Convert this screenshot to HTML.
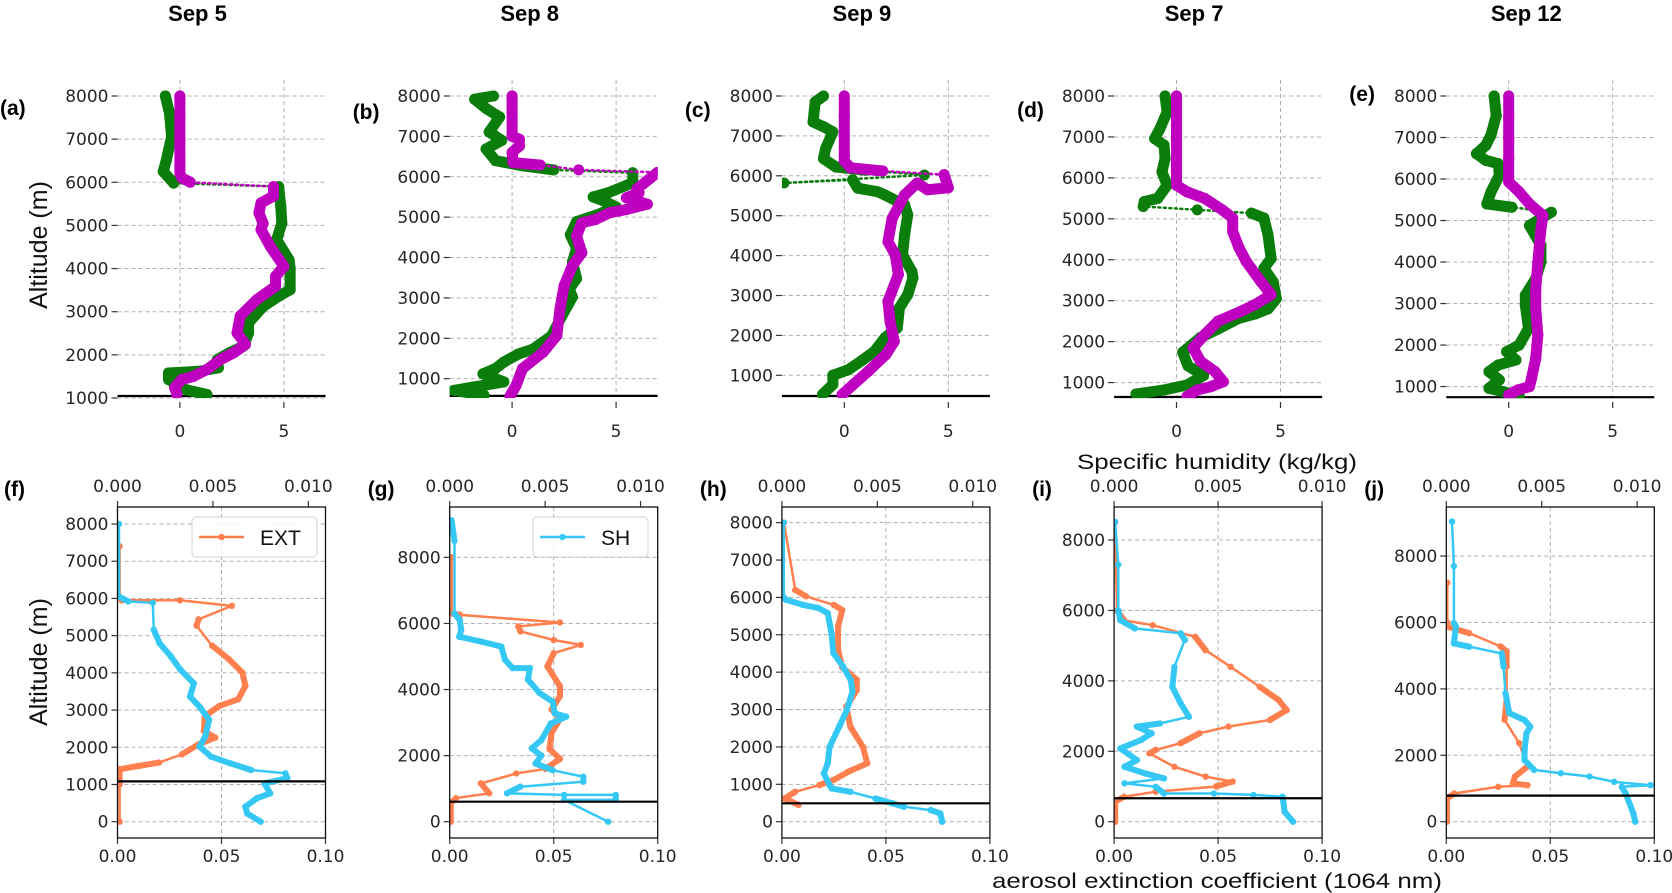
<!DOCTYPE html>
<html><head><meta charset="utf-8"><style>
html,body{margin:0;padding:0;background:#fff;}
svg{display:block;font-family:"DejaVu Sans","Liberation Sans",sans-serif;}
</style></head><body>
<svg id="fig" width="1672" height="893" viewBox="0 0 1672 893" xmlns="http://www.w3.org/2000/svg"></svg>
<script>
// ---------- DATA: top row (specific humidity profiles, x units, altitude m) ----------
const aGAlt=[8000,7600,7060,6520,6250,5980,5900,5440,5050,4670,4200,4010,3510,3360,3120,2740,2510,2200,2040,1890,1700,1620,1580,1430,1190,1080];
const aGVal=[-0.7,-0.5,-0.4,-0.65,-0.8,-0.3,4.75,4.85,4.9,4.65,5.25,5.3,5.3,4.75,4.0,3.3,3.3,3.05,2.35,1.8,1.85,0.95,-0.55,-0.55,0.3,1.3];
const aMAlt=[8000,7500,7000,6500,6200,6100,6000,5900,5680,5520,5290,5050,4900,4510,4050,3820,3590,3280,2900,2510,2240,2050,1890,1660,1500,1430,1240,1090];
const aMVal=[0,0,0,0,0,0.1,0.5,4.5,4.5,3.9,3.8,4.0,3.9,4.35,5.0,4.6,4.6,3.7,2.9,2.75,3.15,2.6,1.95,1.3,0.65,0.1,-0.25,-0.15];
const bGAlt=[8000,7920,7690,7480,7110,6900,6690,6400,6270,6170,6100,5850,5600,5500,5380,5250,5060,4890,4560,4230,3890,3480,3220,3020,2560,2060,1730,1610,1410,1250,1120,920,790,710,590];
const bGVal=[-0.9,-1.8,-1.25,-0.6,-1.1,-0.5,-1.25,-0.8,0.5,2.0,5.8,5.8,4.6,3.9,4.5,5.0,4.1,3.1,2.8,3.1,2.9,3.1,2.75,2.9,2.4,1.9,1.0,0.3,-0.4,-0.8,-1.4,-0.4,-1.9,-2.8,-1.35];
const bMAlt=[8000,7500,7000,6930,6760,6600,6350,6290,6170,6110,5700,5600,5480,5320,5190,5110,4940,4860,4530,4120,3800,3300,2720,2070,1660,1250,840,570];
const bMVal=[0,0,0,0.35,0.35,0,0.05,1.35,3.2,7,6.0,6.1,5.5,6.5,5.5,4.7,4.0,3.35,3.1,3.35,2.9,2.5,2.3,2.15,1.5,0.5,0.2,-0.1];
const cGAlt=[8000,7850,7350,7230,7100,6680,6430,6220,6140,6020,5820,5900,5690,5600,5520,5270,5020,4520,4020,3600,3440,3020,2690,2190,1940,1600,1390,1140,1000,770,520];
const cGVal=[-1.0,-1.4,-1.5,-1.0,-0.55,-0.9,-1.0,-0.4,1.0,3.85,-2.9,0.4,0.65,1.6,1.95,2.9,3.05,2.9,2.8,3.25,3.3,3.05,2.65,2.55,1.95,1.45,0.9,0.2,-0.55,-0.55,-1.05];
const cMAlt=[8000,7500,7000,6500,6370,6200,6120,6030,5700,5650,5820,5520,4930,4350,4020,3530,2850,2350,1850,1520,1100,800,520];
const cMVal=[0,0,0,0,0,0.3,1.85,4.8,5.0,4.0,3.5,2.9,2.3,2.1,2.45,2.6,2.1,2.2,2.4,2.0,1.15,0.5,-0.1];
const dGAlt=[8000,7610,7200,6960,6800,6470,6150,5820,5500,5420,5300,5220,5140,5020,4610,4030,3790,3460,3050,2800,2680,2560,2310,2100,1740,1410,1170,940,820,720];
const dGVal=[-0.55,-0.45,-0.8,-1.05,-0.6,-0.55,-0.7,-0.45,-0.9,-1.55,-1.6,1.0,3.6,4.2,4.4,4.55,4.2,4.65,4.8,4.4,3.8,2.95,2.0,1.15,0.3,0.55,1.3,0.5,-0.6,-1.95];
const dMAlt=[8000,7500,7000,6500,6000,5820,5660,5500,5220,5020,4690,4300,3960,3470,3150,2940,2740,2500,2170,1850,1520,1270,1020,900,820,660];
const dMVal=[0,0,0,0,0,0,0.5,1.35,2.2,2.7,2.7,3.0,3.35,4.05,4.55,3.9,3.1,2.0,1.35,0.8,1.15,1.85,2.25,1.65,1.0,0.5];
const eGAlt=[8000,7530,7060,6810,6610,6450,6370,6090,5690,5400,5320,5200,4880,4400,4000,3600,3200,2960,2400,2000,1840,1640,1520,1360,1160,960,780];
const eGVal=[-0.7,-0.6,-0.85,-1.1,-1.55,-1.1,-0.5,-0.45,-0.85,-1.05,0.15,2.05,1.0,1.55,1.55,1.3,0.8,0.8,0.95,0.5,-0.1,0.35,-0.5,-0.95,-0.45,-0.95,0.5];
const eMAlt=[8000,7500,7000,6500,5930,5690,5400,5120,4800,4000,3360,2880,2240,1680,1200,1000,920,800];
const eMVal=[0,0,0,0,0,0.5,1.0,1.65,1.55,1.4,1.3,1.3,1.4,1.3,1.1,1.0,0.45,0];
const topGround=[1046,573,481,648,744];
const topYTicks=[1000,2000,3000,4000,5000,6000,7000,8000];
const topXTicks=[0,5];
const titles=["Sep 5","Sep 8","Sep 9","Sep 7","Sep 12"];

// ---------- DATA: bottom row (EXT bottom axis, SH top axis) ----------
const fEAlt=[7400,6050,5950,5950,5800,5440,5270,4730,4370,4010,3650,3290,3110,2840,2440,2260,2080,1810,1590,1500,1410,1000,0];
const fEVal=[0.001,0.001,0.002,0.03,0.055,0.039,0.038,0.0455,0.0535,0.06,0.0615,0.058,0.049,0.042,0.0415,0.047,0.039,0.031,0.02,0.0104,0.001,0.001,0.001];
const fSAlt=[8000,6050,5920,5880,5160,4800,4440,4080,3720,3360,3090,2740,2290,2020,1750,1570,1390,1300,1170,1030,760,630,400,220,0];
const fSVal=[0.00008,0.00008,0.00056,0.00185,0.0019,0.0022,0.0028,0.0033,0.004,0.0038,0.0043,0.0048,0.0046,0.0043,0.0049,0.0059,0.007,0.0088,0.0089,0.0077,0.008,0.0073,0.0067,0.0068,0.0075];
const gEAlt=[8000,6300,6260,6030,5910,5760,5500,5350,5100,4700,4100,3800,3400,3100,2700,2200,1900,1600,1460,1160,860,710,560,0];
const gEVal=[0.001,0.001,0.005,0.053,0.033,0.034,0.05,0.063,0.05,0.047,0.053,0.053,0.049,0.053,0.049,0.048,0.053,0.046,0.032,0.015,0.019,0.003,0.0005,0.0005];
const gSAlt=[9120,8500,6300,6100,5800,5600,5450,5300,4900,4650,4650,4300,3900,3630,3280,3180,2970,2470,2220,2000,1760,1560,1360,1210,1060,860,810,810,660,660,0];
const gSVal=[0.0001,0.00025,0.00025,0.00053,0.0006,0.0005,0.00165,0.0027,0.0029,0.0033,0.0042,0.0041,0.0047,0.0054,0.0055,0.0061,0.0053,0.0048,0.0043,0.0048,0.0045,0.0054,0.007,0.007,0.0037,0.003,0.006,0.0087,0.0087,0.006,0.0083];
const hEAlt=[8000,6200,6030,5800,5660,5220,4600,4130,3800,3520,3070,2530,2000,1560,1340,1120,980,800,620,450];
const hEVal=[0.001,0.0064,0.0116,0.025,0.029,0.027,0.027,0.029,0.036,0.036,0.031,0.033,0.039,0.041,0.032,0.025,0.018,0.0064,0.0012,0.008];
const hSAlt=[8000,6000,5940,5800,5720,5580,5040,4510,4150,3800,3480,2980,2540,2000,1560,1290,980,890,800,620,490,400,310,220,0];
const hSVal=[0.0001,0.0001,0.0002,0.0011,0.0019,0.0024,0.0026,0.0027,0.0032,0.0036,0.0037,0.0034,0.003,0.0025,0.0024,0.0022,0.0025,0.0026,0.0036,0.0049,0.0058,0.0064,0.0078,0.0083,0.0084];
const iEAlt=[8500,6000,5720,5580,5250,4870,4400,3830,3460,3170,2890,2700,2510,2230,2040,1940,1560,1280,1140,1000,850,710,570,0];
const iEVal=[0.0005,0.0014,0.0048,0.0186,0.039,0.044,0.056,0.07,0.079,0.083,0.075,0.055,0.041,0.032,0.02,0.017,0.029,0.044,0.057,0.049,0.02,0.0048,0.0005,0.0005];
const iSAlt=[8520,7300,6000,5720,5490,5350,5160,4400,3830,3360,2980,2790,2700,2510,2320,2080,1750,1560,1370,1230,1090,990,800,800,760,710,280,0];
const iSVal=[0.00005,0.0002,0.0002,0.0003,0.001,0.0032,0.0034,0.0029,0.0028,0.0032,0.0036,0.0022,0.0011,0.0018,0.0013,0.0003,0.0011,0.0005,0.0015,0.0024,0.0005,0.002,0.0024,0.0048,0.0067,0.0081,0.0082,0.0086];
const jEAlt=[7200,6000,5880,5680,5280,5130,4670,3670,3070,2370,1660,1360,1150,1100,1050,850,700,0];
const jEVal=[0.0005,0.0005,0.0003,0.011,0.026,0.029,0.029,0.029,0.028,0.035,0.039,0.033,0.032,0.039,0.025,0.0038,0.0003,0.0003];
const jSAlt=[9040,7700,5980,5880,5370,5270,5070,4670,3870,3270,3060,2860,2660,2160,1860,1560,1460,1360,1200,1100,1050,850,250,0];
const jSVal=[0.0003,0.0004,0.0004,0.0005,0.0004,0.0012,0.0029,0.003,0.0031,0.0033,0.0041,0.0044,0.0042,0.0041,0.0041,0.0046,0.006,0.0075,0.0088,0.0107,0.0092,0.0094,0.0098,0.0099];
const botGround=[1083,605,492,665,785];
const extTicks=[0,0.05,0.10];
const extTickLabels=["0.00","0.05","0.10"];
const shTicks=[0,0.005,0.010];
const shTickLabels=["0.000","0.005","0.010"];
const botYTicksF=[0,1000,2000,3000,4000,5000,6000,7000,8000];
const botYTicksG=[0,2000,4000,6000,8000];

// ---------- layout (geometry, not data) ----------
const NS="http://www.w3.org/2000/svg";
const svg=document.getElementById('fig');
const LEFTS=[117.5,449.7,781.9,1114.1,1446.3], W=208;
const kTop=[0.04314,0.04038,0.0399,0.04094,0.04151];
const kBot=[0.03721,0.03304,0.03738,0.03521,0.0332];
const shMax=[0.0109,0.0109,0.0109,0.0100,0.0109];
const BT=507, BB=838, Y0=821.7;
const topSeries=[[aGAlt,aGVal,aMAlt,aMVal],[bGAlt,bGVal,bMAlt,bMVal],[cGAlt,cGVal,cMAlt,cMVal],[dGAlt,dGVal,dMAlt,dMVal],[eGAlt,eGVal,eMAlt,eMVal]];
const botSeries=[[fEAlt,fEVal,fSAlt,fSVal],[gEAlt,gEVal,gSAlt,gSVal],[hEAlt,hEVal,hSAlt,hSVal],[iEAlt,iEVal,iSAlt,iSVal],[jEAlt,jEVal,jSAlt,jSVal]];
const botYT=[botYTicksF,botYTicksG,botYTicksF,botYTicksG,botYTicksG];
const topLetters=["(a)","(b)","(c)","(d)","(e)"], botLetters=["(f)","(g)","(h)","(i)","(j)"];
const topLetterX=[0,LEFTS[1]-97,LEFTS[2]-97,LEFTS[3]-97,LEFTS[4]-97];
const topLetterY=[115,119,117,117,101];
const botLetterX=[4,LEFTS[1]-82,LEFTS[2]-82,LEFTS[3]-82,LEFTS[4]-82];

function mk(tag,attrs,parent){const e=document.createElementNS(NS,tag);for(const k in attrs)e.setAttribute(k,attrs[k]);(parent||svg).appendChild(e);return e;}
function txt(s,attrs,parent){const e=mk('text',attrs,parent);e.textContent=s;return e;}

const defs=mk('defs',{});
for(let p=0;p<5;p++){
  const c1=mk('clipPath',{id:'ct'+p},defs);mk('rect',{x:LEFTS[p],y:78,width:W,height:320},c1);
  const c2=mk('clipPath',{id:'cb'+p},defs);mk('rect',{x:LEFTS[p],y:BT,width:W,height:BB-BT},c2);
}

function drawSeries(g,xs,ys,color,thinDash,thinW,thickW,thr,r,name){
  const sg=mk('g',{},g);
  
  
  let d='';xs.forEach((x,i)=>{d+=(i?'L':'M')+x.toFixed(1)+' '+ys[i].toFixed(1);});
  const pl=mk('path',{d:d,fill:'none',stroke:color,'stroke-width':thinW,'stroke-dasharray':thinDash||'none','stroke-linecap':'round'},sg);
  
  
  for(let i=1;i<xs.length;i++){
    const dx=xs[i]-xs[i-1],dy=ys[i]-ys[i-1];
    if(Math.hypot(dx,dy)<thr){mk('line',{x1:xs[i-1],y1:ys[i-1],x2:xs[i],y2:ys[i],stroke:color,'stroke-width':thickW,'stroke-linecap':'round'},sg);}
  }
  for(let i=0;i<xs.length;i++){
    const c=mk('circle',{cx:xs[i],cy:ys[i],r:r,fill:color},sg);
    
    
  }
}

for(let p=0;p<5;p++){
  const t=txt(titles[p],{x:LEFTS[p]+80,y:21,'text-anchor':'middle','font-family':'Liberation Sans, sans-serif','font-weight':'bold','font-size':22,fill:'#000'});
  
  
}

// ---- top row ----
for(let p=0;p<5;p++){
  const L=LEFTS[p], k=kTop[p];
  const X=v=>L+(v+3)/10*W;
  const Y=v=>96+(8000-v)*k;
  const g=mk('g',{});
  
  
  topYTicks.forEach(t=>{
    mk('line',{x1:L,y1:Y(t),x2:L+W,y2:Y(t),stroke:'#b0b0b0','stroke-width':1,'stroke-dasharray':'4,3'},g);
    mk('line',{x1:L-6,y1:Y(t),x2:L,y2:Y(t),stroke:'#333','stroke-width':1.2},g);
    const tl=txt(String(t),{x:L-9,y:Y(t)+6,'text-anchor':'end','font-size':17,fill:'#262626'},g);
    
    
  });
  topXTicks.forEach(t=>{
    mk('line',{x1:X(t),y1:80,x2:X(t),y2:396,stroke:'#b0b0b0','stroke-width':1,'stroke-dasharray':'4,3'},g);
    mk('line',{x1:X(t),y1:402,x2:X(t),y2:408,stroke:'#333','stroke-width':1.2},g);
    const tl=txt(String(t),{x:X(t),y:437,'text-anchor':'middle','font-size':17,fill:'#262626'},g);
    
    
  });
  const gl=mk('line',{x1:L,y1:Y(topGround[p]),x2:L+W,y2:Y(topGround[p]),stroke:'#000','stroke-width':2.2},g);
  
  
  const s=topSeries[p];
  const cg=mk('g',{'clip-path':'url(#ct'+p+')'},g);
  drawSeries(cg,s[1].map(X),s[0].map(Y),'#0b7d0b','2,3.5',2.5,11,36,5.5,'green-series');
  drawSeries(cg,s[3].map(X),s[2].map(Y),'#c000c0','2,3.5',2.5,11,36,5.5,'magenta-series');
  const pl=txt(topLetters[p],{x:topLetterX[p],y:topLetterY[p],'font-family':'Liberation Sans, sans-serif','font-weight':'bold','font-size':21,fill:'#000'});
  
  
}

// ---- bottom row ----
for(let p=0;p<5;p++){
  const L=LEFTS[p], k=kBot[p];
  const XE=v=>L+v/0.1*W;
  const XS=v=>L+v/shMax[p]*W;
  const Y=v=>Y0-v*k;
  const g=mk('g',{});
  
  
  botYT[p].forEach(t=>{
    mk('line',{x1:L,y1:Y(t),x2:L+W,y2:Y(t),stroke:'#b0b0b0','stroke-width':1,'stroke-dasharray':'4,3'},g);
    mk('line',{x1:L-6,y1:Y(t),x2:L,y2:Y(t),stroke:'#333','stroke-width':1.2},g);
    const tl=txt(String(t),{x:L-9,y:Y(t)+6,'text-anchor':'end','font-size':17,fill:'#262626'},g);
    
    
  });
  mk('line',{x1:XE(0.05),y1:BT,x2:XE(0.05),y2:BB,stroke:'#b0b0b0','stroke-width':1,'stroke-dasharray':'4,3'},g);
  extTicks.forEach((t,i)=>{
    mk('line',{x1:XE(t),y1:BB,x2:XE(t),y2:BB+6,stroke:'#333','stroke-width':1.2},g);
    const tl=txt(extTickLabels[i],{x:XE(t),y:862,'text-anchor':'middle','font-size':17,fill:'#262626'},g);
    
    
  });
  shTicks.forEach((t,i)=>{
    if(t>shMax[p]+1e-9)return;
    mk('line',{x1:XS(t),y1:BT-6,x2:XS(t),y2:BT,stroke:'#333','stroke-width':1.2},g);
    const tl=txt(shTickLabels[i],{x:XS(t),y:492,'text-anchor':'middle','font-size':17,fill:'#262626'},g);
    
    
  });
  const s=botSeries[p];
  const cg=mk('g',{'clip-path':'url(#cb'+p+')'},g);
  drawSeries(cg,s[1].map(XE),s[0].map(Y),'#ff7f4f',null,2.5,6,24,3.2,'ext-series');
  drawSeries(cg,s[3].map(XS),s[2].map(Y),'#35c8f5',null,2.5,6,24,3.2,'sh-series');
  const gl=mk('line',{x1:L,y1:Y(botGround[p]),x2:L+W,y2:Y(botGround[p]),stroke:'#000','stroke-width':2.2},g);
  
  
  const fr=mk('rect',{x:L,y:BT,width:W,height:BB-BT,fill:'none',stroke:'#111','stroke-width':1.3},g);
  
  
  const pl=txt(botLetters[p],{x:botLetterX[p],y:496,'font-family':'Liberation Sans, sans-serif','font-weight':'bold','font-size':21,fill:'#000'});
  
  
}

function legend(x,w,color,label,name){
  const g=mk('g',{});
  
  
  mk('rect',{x:x,y:517,width:w,height:40,rx:4,fill:'#fff','fill-opacity':0.85,stroke:'#d0d0d0','stroke-width':1},g);
  mk('line',{x1:x+7,y1:537,x2:x+52,y2:537,stroke:color,'stroke-width':2.5},g);
  mk('circle',{cx:x+29.5,cy:537,r:3.2,fill:color},g);
  txt(label,{x:x+68,y:545,'font-family':'Liberation Sans, sans-serif','font-size':21,fill:'#111'},g);
}
legend(192,125,'#ff7f4f','EXT','legend-ext');
legend(533,115,'#35c8f5','SH','legend-sh');

let t=txt('Altitude (m)',{x:0,y:0,'text-anchor':'middle','font-family':'Liberation Sans, sans-serif','font-size':25,fill:'#111',transform:'translate(47,245) rotate(-90)'});

t=txt('Altitude (m)',{x:0,y:0,'text-anchor':'middle','font-family':'Liberation Sans, sans-serif','font-size':25,fill:'#111',transform:'translate(47,662) rotate(-90)'});

t=txt('Specific humidity (kg/kg)',{x:1217,y:469,'text-anchor':'middle','font-family':'Liberation Sans, sans-serif','font-size':21,textLength:280,lengthAdjust:'spacingAndGlyphs',fill:'#111'});

t=txt('aerosol extinction coefficient (1064 nm)',{x:1217,y:888,'text-anchor':'middle','font-family':'Liberation Sans, sans-serif','font-size':21,textLength:450,lengthAdjust:'spacingAndGlyphs',fill:'#111'});

</script>
</body></html>
